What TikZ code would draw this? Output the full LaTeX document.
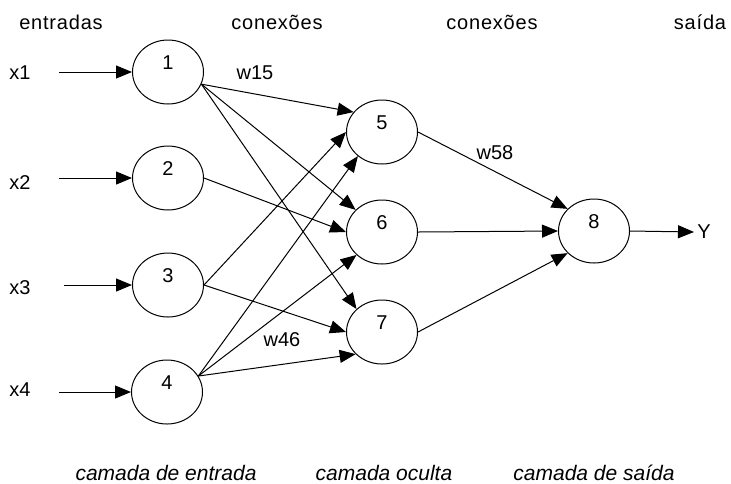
\documentclass[tikz,border=0pt]{standalone}
\usepackage{fontspec}
\setmainfont{Liberation Sans}
\newfontfamily\spacedfont[LetterSpace=4]{Liberation Sans}
\usetikzlibrary{arrows.meta,shapes.geometric}

\begin{document}
\begin{tikzpicture}[x=0.5pt,y=-0.5pt,
    neuron/.style={draw,ellipse,line width=0.5pt,minimum width=35.5pt,minimum height=32pt,inner sep=0pt,text depth=9pt,font=\fontsize{10}{12}\selectfont},
    conn/.style={line width=0.5pt,-{Triangle[length=8pt,width=6.5pt]}},
    lbl/.style={font=\fontsize{10}{12}\selectfont},
    head/.style={font=\fontsize{10}{12}\spacedfont},
    layer/.style={font=\fontsize{10.5}{12}\selectfont\itshape}]
    \useasboundingbox (0,0) rectangle (731,483);
    \node [head] (hin) at (61,22) {entradas};
    \node [head] (hc1) at (277,22) {conexões};
    \node [head] (hc2) at (492,22) {conexões};
    \node [head] (hout) at (700,22) {saída};
    \node [neuron] (n1) at (168,72) {1};
    \node [neuron] (n2) at (168,178) {2};
    \node [neuron] (n3) at (168,285) {3};
    \node [neuron] (n4) at (167,392) {4};
    \node [neuron] (n5) at (382,132) {5};
    \node [neuron] (n6) at (382,232) {6};
    \node [neuron] (n7) at (382,332) {7};
    \node [neuron] (n8) at (594,231) {8};
    \node [lbl] (x1) at (20,73) {x1};
    \node [lbl] (x2) at (20,183) {x2};
    \node [lbl] (x3) at (20,288) {x3};
    \node [lbl] (x4) at (20,390) {x4};
    \coordinate (i1) at (59,72);
    \coordinate (i2) at (59,178);
    \coordinate (i3) at (64,285);
    \coordinate (i4) at (59,392);
    \draw [conn] (i1) -- (n1.west);
    \draw [conn] (i2) -- (n2.west);
    \draw [conn] (i3) -- (n3.west);
    \draw [conn] (i4) -- (n4.west);
    \draw [conn] (n1.-20) -- (n5.145);
    \draw [conn] (n1.-20) -- (n6.140);
    \draw [conn] (n1.-20) -- (n7.138);
    \draw [conn] (n2.east) -- (n6.west);
    \draw [conn] (n3.east) -- (n5.west);
    \draw [conn] (n3.east) -- (n7.west);
    \draw [conn] (n4.27) -- (n5.225);
    \draw [conn] (n4.27) -- (n6.222);
    \draw [conn] (n4.27) -- (n7.220);
    \draw [conn] (n5.east) -- (n8.140);
    \draw [conn] (n6.east) -- (n8.west);
    \draw [conn] (n7.east) -- (n8.220);
    \node [lbl,anchor=west,inner sep=1.5pt] (y) at (694,232) {Y};
    \draw [conn] (n8.east) -- (y.west);
    \node [lbl] (w15) at (255,73) {w15};
    \node [lbl] (w46) at (282,340) {w46};
    \node [lbl] (w58) at (495,153) {w58};
    \node [layer] (lin) at (166,473) {camada de entrada};
    \node [layer] (lhid) at (384,473) {camada oculta};
    \node [layer] (lout) at (594,473) {camada de saída};
\end{tikzpicture}
\end{document}
